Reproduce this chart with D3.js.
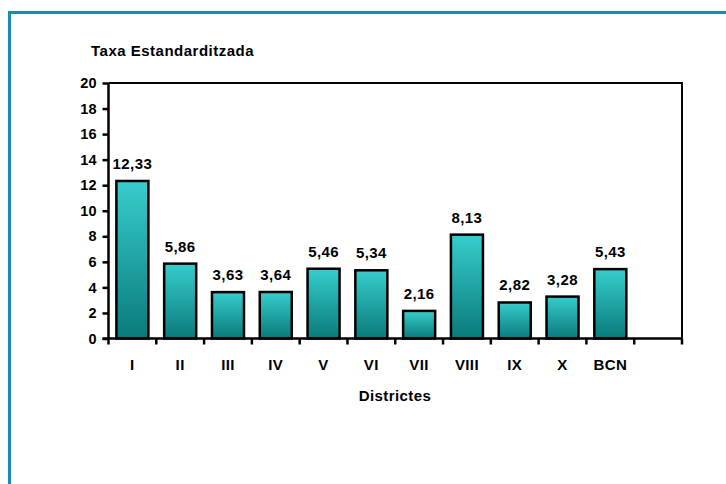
<!DOCTYPE html>
<html><head><meta charset="utf-8">
<script src="https://cdn.jsdelivr.net/npm/d3@7"></script>
<style>body{margin:0;background:#fff}svg{display:block}text{font-family:"Liberation Sans",Arial,sans-serif;font-weight:bold;fill:#000}</style>
</head><body><svg id="c" width="726" height="484"></svg>
<script>
const categories = ["I","II","III","IV","V","VI","VII","VIII","IX","X","BCN",""];
const values = [12.33,5.86,3.63,3.64,5.46,5.34,2.16,8.13,2.82,3.28,5.43,null];
const labels = ["12,33","5,86","3,63","3,64","5,46","5,34","2,16","8,13","2,82","3,28","5,43",""];
const yTicks = [0,2,4,6,8,10,12,14,16,18,20];

const svg = d3.select("#c");
// frame
svg.append("path").attr("d","M9.5,484 V12.5 H726").attr("fill","none").attr("stroke","#1a8cb2").attr("stroke-width",3);

const L=108.5, R=682, T=83, B=338.5;
const x = d3.scaleBand().domain(categories.map((c,i)=>i)).range([L,R]).paddingInner(0.33).paddingOuter(0.165);
const xb = d3.scaleBand().domain(categories.map((c,i)=>i)).range([L,R]);
const y = d3.scaleLinear().domain([0,20]).range([B,T]);

const defs = svg.append("defs");
const g = defs.append("linearGradient").attr("id","gr").attr("x1",0).attr("y1",0).attr("x2",0).attr("y2",1);
g.append("stop").attr("offset","0%").attr("stop-color","#37cdcd");
g.append("stop").attr("offset","100%").attr("stop-color","#0a7a7a");

// plot frame (top and right)
svg.append("path").attr("d",`M${L},${T} H${R} V${B}`).attr("fill","none").attr("stroke","#000").attr("stroke-width",2);

svg.append("g").selectAll("rect").data(values.map((v,i)=>({v,i})).filter(d=>d.v!=null)).join("rect")
  .attr("x",d=>x(d.i)).attr("width",x.bandwidth())
  .attr("y",d=>y(d.v)).attr("height",d=>B-y(d.v))
  .attr("fill","url(#gr)").attr("stroke","#000").attr("stroke-width",2.5);

svg.append("g").selectAll("text").data(values.map((v,i)=>({v,i})).filter(d=>d.v!=null)).join("text")
  .attr("x",d=>xb(d.i)+xb.bandwidth()/2).attr("y",d=>y(d.v)-12)
  .attr("text-anchor","middle").attr("font-size",15).attr("letter-spacing","0.4px").text(d=>labels[d.i]);

// y axis
const ya = svg.append("g").attr("transform",`translate(${L},0)`)
  .call(d3.axisLeft(y).tickValues(yTicks).tickSize(6).tickPadding(6).tickFormat(d3.format("d")));
ya.selectAll("path,line").attr("stroke","#000").attr("stroke-width",2.5);
ya.select("path").attr("d",`M0,${T}V${B}`);
ya.selectAll("text").attr("font-size",14.5).attr("font-family","Liberation Sans, Arial, sans-serif").attr("font-weight","bold").attr("fill","#000");

// x axis
const xa = svg.append("g").attr("transform",`translate(0,${B})`);
xa.append("line").attr("x1",L-6).attr("x2",R).attr("stroke","#000").attr("stroke-width",2.5);
xa.selectAll("line.t").data(d3.range(categories.length+1)).join("line").attr("class","t")
  .attr("x1",i=>L+i*xb.step()).attr("x2",i=>L+i*xb.step()).attr("y1",0).attr("y2",6)
  .attr("stroke","#000").attr("stroke-width",2.5);
xa.selectAll("text").data(categories).join("text")
  .attr("x",(c,i)=>xb(i)+xb.bandwidth()/2).attr("y",31.5)
  .attr("text-anchor","middle").attr("font-size",15).attr("letter-spacing","0.4px").text(c=>c);

svg.append("text").attr("x",395).attr("y",401).attr("text-anchor","middle").attr("font-size",15).attr("letter-spacing","0.4px").text("Districtes");
svg.append("text").attr("x",91).attr("y",56).attr("font-size",15).attr("letter-spacing","0.5px").text("Taxa Estandarditzada");
</script></body></html>
